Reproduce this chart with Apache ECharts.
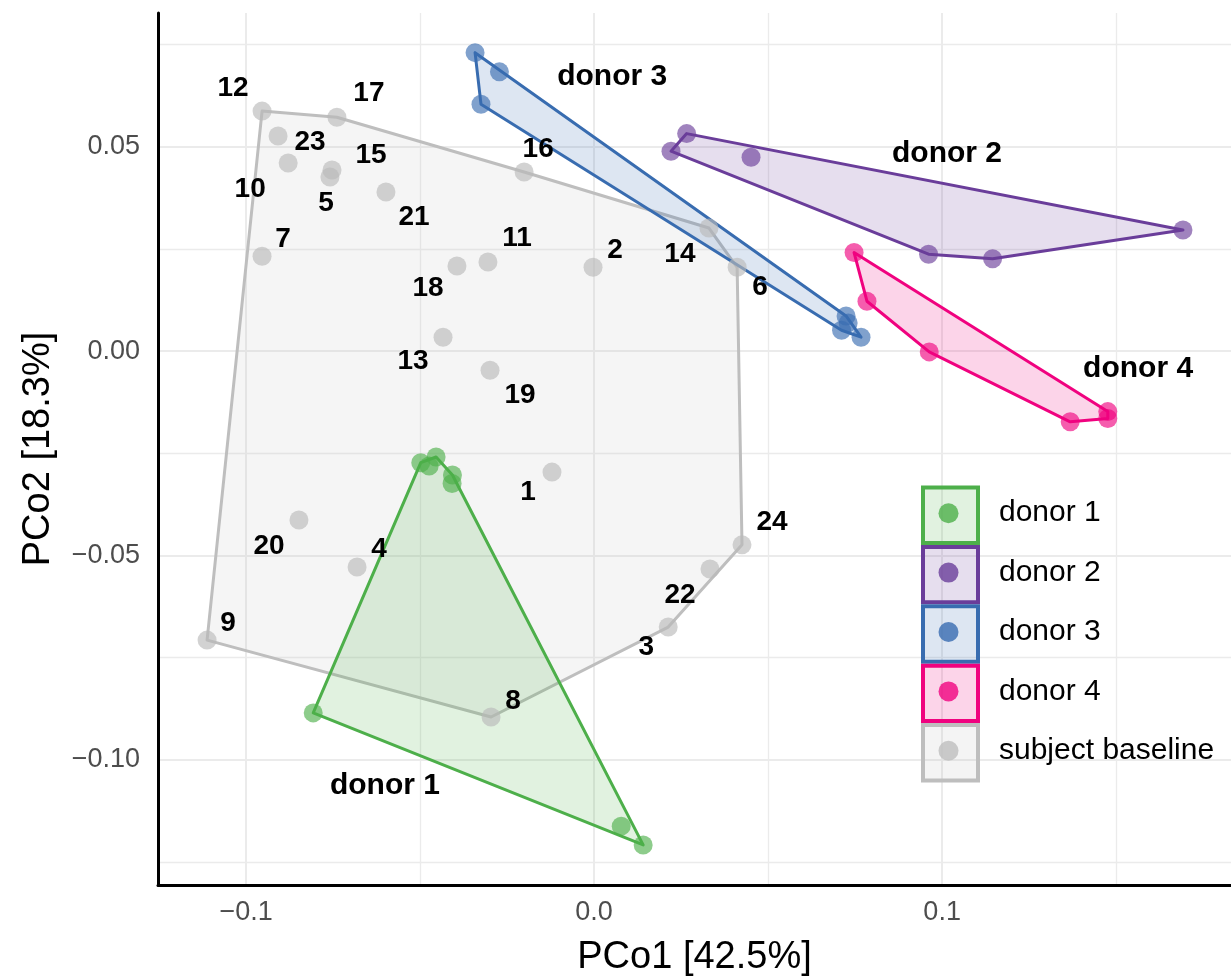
<!DOCTYPE html>
<html>
<head>
<meta charset="utf-8">
<title>PCoA donors</title>
<script src="https://cdn.jsdelivr.net/npm/echarts@6/dist/echarts.min.js"></script>
<style>
  * { margin: 0; padding: 0; }
  body { background: #fff; }
  #main { width: 1231px; height: 980px; }
</style>
</head>
<body>
<div id="main"></div>
<script>
// subject baseline samples, numbered 1..24
var baselineIds = ['1','2','3','4','5','6','7','8','9','10','11','12','13','14','15','16','17','18','19','20','21','22','23','24'];
var baselineX = [-0.0121, -0.0003, 0.0213, -0.0681, -0.0759, 0.0411, -0.0954, -0.0296, -0.1112, -0.0879, -0.0305, -0.0954,
                 -0.0434, 0.0330, -0.0753, -0.0201, -0.0739, -0.0394, -0.0299, -0.0848, -0.0598, 0.0333, -0.0908, 0.0425];
var baselineY = [-0.0296, 0.0205, -0.0675, -0.0528, 0.0426, 0.0205, 0.0232, -0.0895, -0.0707, 0.0460, 0.0218, 0.0587,
                 0.0034, 0.0301, 0.0443, 0.0438, 0.0572, 0.0208, -0.0047, -0.0413, 0.0389, -0.0533, 0.0526, -0.0474];

// donor samples
var donor1X = [-0.0498, -0.0474, -0.0454, -0.0407, -0.0408, -0.0807, 0.0078, 0.0141];
var donor1Y = [-0.0273, -0.0281, -0.0259, -0.0303, -0.0324, -0.0885, -0.1162, -0.1208];
var donor2X = [0.0266, 0.0221, 0.0451, 0.0961, 0.1145, 0.1692];
var donor2Y = [0.0532, 0.0489, 0.0474, 0.0237, 0.0226, 0.0296];
var donor3X = [-0.0342, -0.0272, -0.0325, 0.0724, 0.0730, 0.0711, 0.0767];
var donor3Y = [0.0730, 0.0683, 0.0604, 0.0086, 0.0069, 0.0051, 0.0034];
var donor4X = [0.0747, 0.0784, 0.0963, 0.1368, 0.1476, 0.1476];
var donor4Y = [0.0241, 0.0122, -0.0002, -0.0173, -0.0148, -0.0165];

var groupNames = ['donor 1', 'donor 2', 'donor 3', 'donor 4', 'subject baseline'];
var donorLabelX = [-0.0601, 0.1014, 0.0052, 0.1563];
var donorLabelY = [-0.1064, 0.0482, 0.0670, -0.0042];

var xTicks = [-0.1, 0.0, 0.1];
var yTicks = [-0.10, -0.05, 0.00, 0.05];

// layout: pixel nudges of the number labels (ggrepel style)
var labelNudge = [[-24,20],[22,-17],[-22,20],[22,-18],[-4,26],[23,20],[21,-17],[22,-16],[21,-17],[-38,26],[29,-24],[-29,-23],
                  [-30,24],[-29,26],[39,-15],[14,-23],[32,-24],[-29,22],[30,25],[-30,26],[28,25],[-30,26],[32,6],[30,-23]];

var colors = ['#4daf4a', '#6a3d9a', '#386cb0', '#f0027f', '#bebebe'];
var FONT = '"Liberation Sans", Arial, Helvetica, sans-serif';

function fade(hex, a) {
  var r = parseInt(hex.substr(1, 2), 16), g = parseInt(hex.substr(3, 2), 16), b = parseInt(hex.substr(5, 2), 16);
  return 'rgba(' + r + ',' + g + ',' + b + ',' + a + ')';
}

function zip(xs, ys) {
  return xs.map(function (x, i) { return [x, ys[i]]; });
}

// monotone chain convex hull
function convexHull(points) {
  var p = points.slice().sort(function (a, b) { return a[0] - b[0] || a[1] - b[1]; });
  function cross(o, a, b) { return (a[0] - o[0]) * (b[1] - o[1]) - (a[1] - o[1]) * (b[0] - o[0]); }
  var lower = [], upper = [];
  for (var i = 0; i < p.length; i++) {
    while (lower.length >= 2 && cross(lower[lower.length - 2], lower[lower.length - 1], p[i]) <= 0) lower.pop();
    lower.push(p[i]);
  }
  for (var j = p.length - 1; j >= 0; j--) {
    while (upper.length >= 2 && cross(upper[upper.length - 2], upper[upper.length - 1], p[j]) <= 0) upper.pop();
    upper.push(p[j]);
  }
  upper.pop(); lower.pop();
  return lower.concat(upper);
}

function hullSeries(pts, color, fillAlpha) {
  var hull = convexHull(pts);
  return {
    type: 'custom',
    coordinateSystem: 'cartesian2d',
    silent: true,
    data: [hull[0]],
    renderItem: function (params, api) {
      var px = hull.map(function (p) { return api.coord(p); });
      return {
        type: 'polygon',
        shape: { points: px },
        style: { fill: fade(color, fillAlpha), stroke: color, lineWidth: 3, lineJoin: 'round' }
      };
    }
  };
}

function pointSeries(pts, color) {
  return {
    type: 'scatter',
    silent: true,
    symbolSize: 19,
    itemStyle: { color: fade(color, 0.8) },
    data: pts
  };
}

var groups = [zip(donor1X, donor1Y), zip(donor2X, donor2Y), zip(donor3X, donor3Y), zip(donor4X, donor4Y), zip(baselineX, baselineY)];

var series = [];
// grey hull first, then donor hulls
series.push(hullSeries(groups[4], colors[4], 0.16));
for (var g = 0; g < 4; g++) series.push(hullSeries(groups[g], colors[g], 0.17));
for (var g2 = 0; g2 < 4; g2++) series.push(pointSeries(groups[g2], colors[g2]));

series.push({
  type: 'scatter',
  silent: true,
  symbolSize: 19,
  itemStyle: { color: 'rgba(184,184,184,0.8)' },
  label: {
    show: true, position: 'inside', formatter: '{b}', color: '#000', opacity: 1,
    fontSize: 28, fontWeight: 'bold', fontFamily: FONT
  },
  data: baselineX.map(function (x, i) {
    return { name: baselineIds[i], value: [x, baselineY[i]], label: { offset: labelNudge[i] } };
  })
});

series.push({
  type: 'scatter',
  silent: true,
  symbolSize: 0,
  label: {
    show: true, position: 'inside', color: '#000', opacity: 1,
    fontSize: 30, fontWeight: 'bold', fontFamily: FONT,
    formatter: function (p) { return p.data[2]; }
  },
  data: donorLabelX.map(function (x, i) { return [x, donorLabelY[i], groupNames[i]]; })
});

// legend keys (box + dot + text), placed by left/top of each element
var legendItems = [];
for (var k = 0; k < groupNames.length; k++) {
  var rowTop = 483.5 + k * 59.4;
  var rowMid = rowTop + 29.7;
  legendItems.push({
    type: 'rect', z: 100, left: 921, top: rowTop + 2,
    shape: { x: 0, y: 0, width: 55, height: 55.4 },
    style: { fill: fade(colors[k], 0.17), stroke: colors[k], lineWidth: 4 }
  });
  legendItems.push({
    type: 'circle', z: 101, left: 938.5, top: rowMid - 10,
    shape: { cx: 10, cy: 10, r: 10 },
    style: { fill: fade(colors[k], 0.8) }
  });
  legendItems.push({
    type: 'text', z: 101, left: 999, top: rowMid - 17,
    style: { text: groupNames[k], fill: '#000', fontSize: 30, fontFamily: FONT, lineHeight: 34 }
  });
}

function tickFormatter(ticks, digits) {
  return function (v) {
    for (var i = 0; i < ticks.length; i++) {
      if (Math.abs(v - ticks[i]) < 1e-9) return ticks[i].toFixed(digits).replace('-', '\u2212');
    }
    return '';
  };
}

var chart = echarts.init(document.getElementById('main'), null, { renderer: 'canvas' });
chart.setOption({
  animation: false,
  backgroundColor: '#fff',
  grid: { left: 158, right: 0, top: 13, bottom: 95, outerBoundsMode: 'none' },
  xAxis: {
    type: 'value',
    min: -0.1253, max: 0.183,
    minInterval: 0.1, maxInterval: 0.1,
    name: 'PCo1 [42.5%]',
    nameLocation: 'middle',
    nameGap: 54,
    nameTextStyle: { fontSize: 38, color: '#000', fontFamily: FONT },
    axisLine: { show: true, onZero: false, lineStyle: { color: '#000', width: 3 } },
    axisTick: { show: false },
    axisLabel: { fontSize: 27, color: '#4d4d4d', fontFamily: FONT, margin: 14, formatter: tickFormatter(xTicks, 1) },
    splitLine: { show: true, showMinLine: false, showMaxLine: false, lineStyle: { color: '#ebebeb', width: 2 } },
    minorTick: { show: false, splitNumber: 2 },
    minorSplitLine: { show: true, lineStyle: { color: '#ebebeb', width: 1.3 } }
  },
  yAxis: {
    type: 'value',
    min: -0.1306, max: 0.0827,
    minInterval: 0.05, maxInterval: 0.05,
    name: 'PCo2 [18.3%]',
    nameLocation: 'middle',
    nameGap: 100,
    nameTextStyle: { fontSize: 38, color: '#000', fontFamily: FONT },
    axisLine: { show: true, onZero: false, lineStyle: { color: '#000', width: 3 } },
    axisTick: { show: false },
    axisLabel: { fontSize: 27, color: '#4d4d4d', fontFamily: FONT, margin: 18, formatter: tickFormatter(yTicks, 2) },
    splitLine: { show: true, showMinLine: false, showMaxLine: false, lineStyle: { color: '#ebebeb', width: 2 } },
    minorTick: { show: false, splitNumber: 2 },
    minorSplitLine: { show: true, lineStyle: { color: '#ebebeb', width: 1.3 } }
  },
  graphic: legendItems,
  series: series
});
</script>
</body>
</html>
